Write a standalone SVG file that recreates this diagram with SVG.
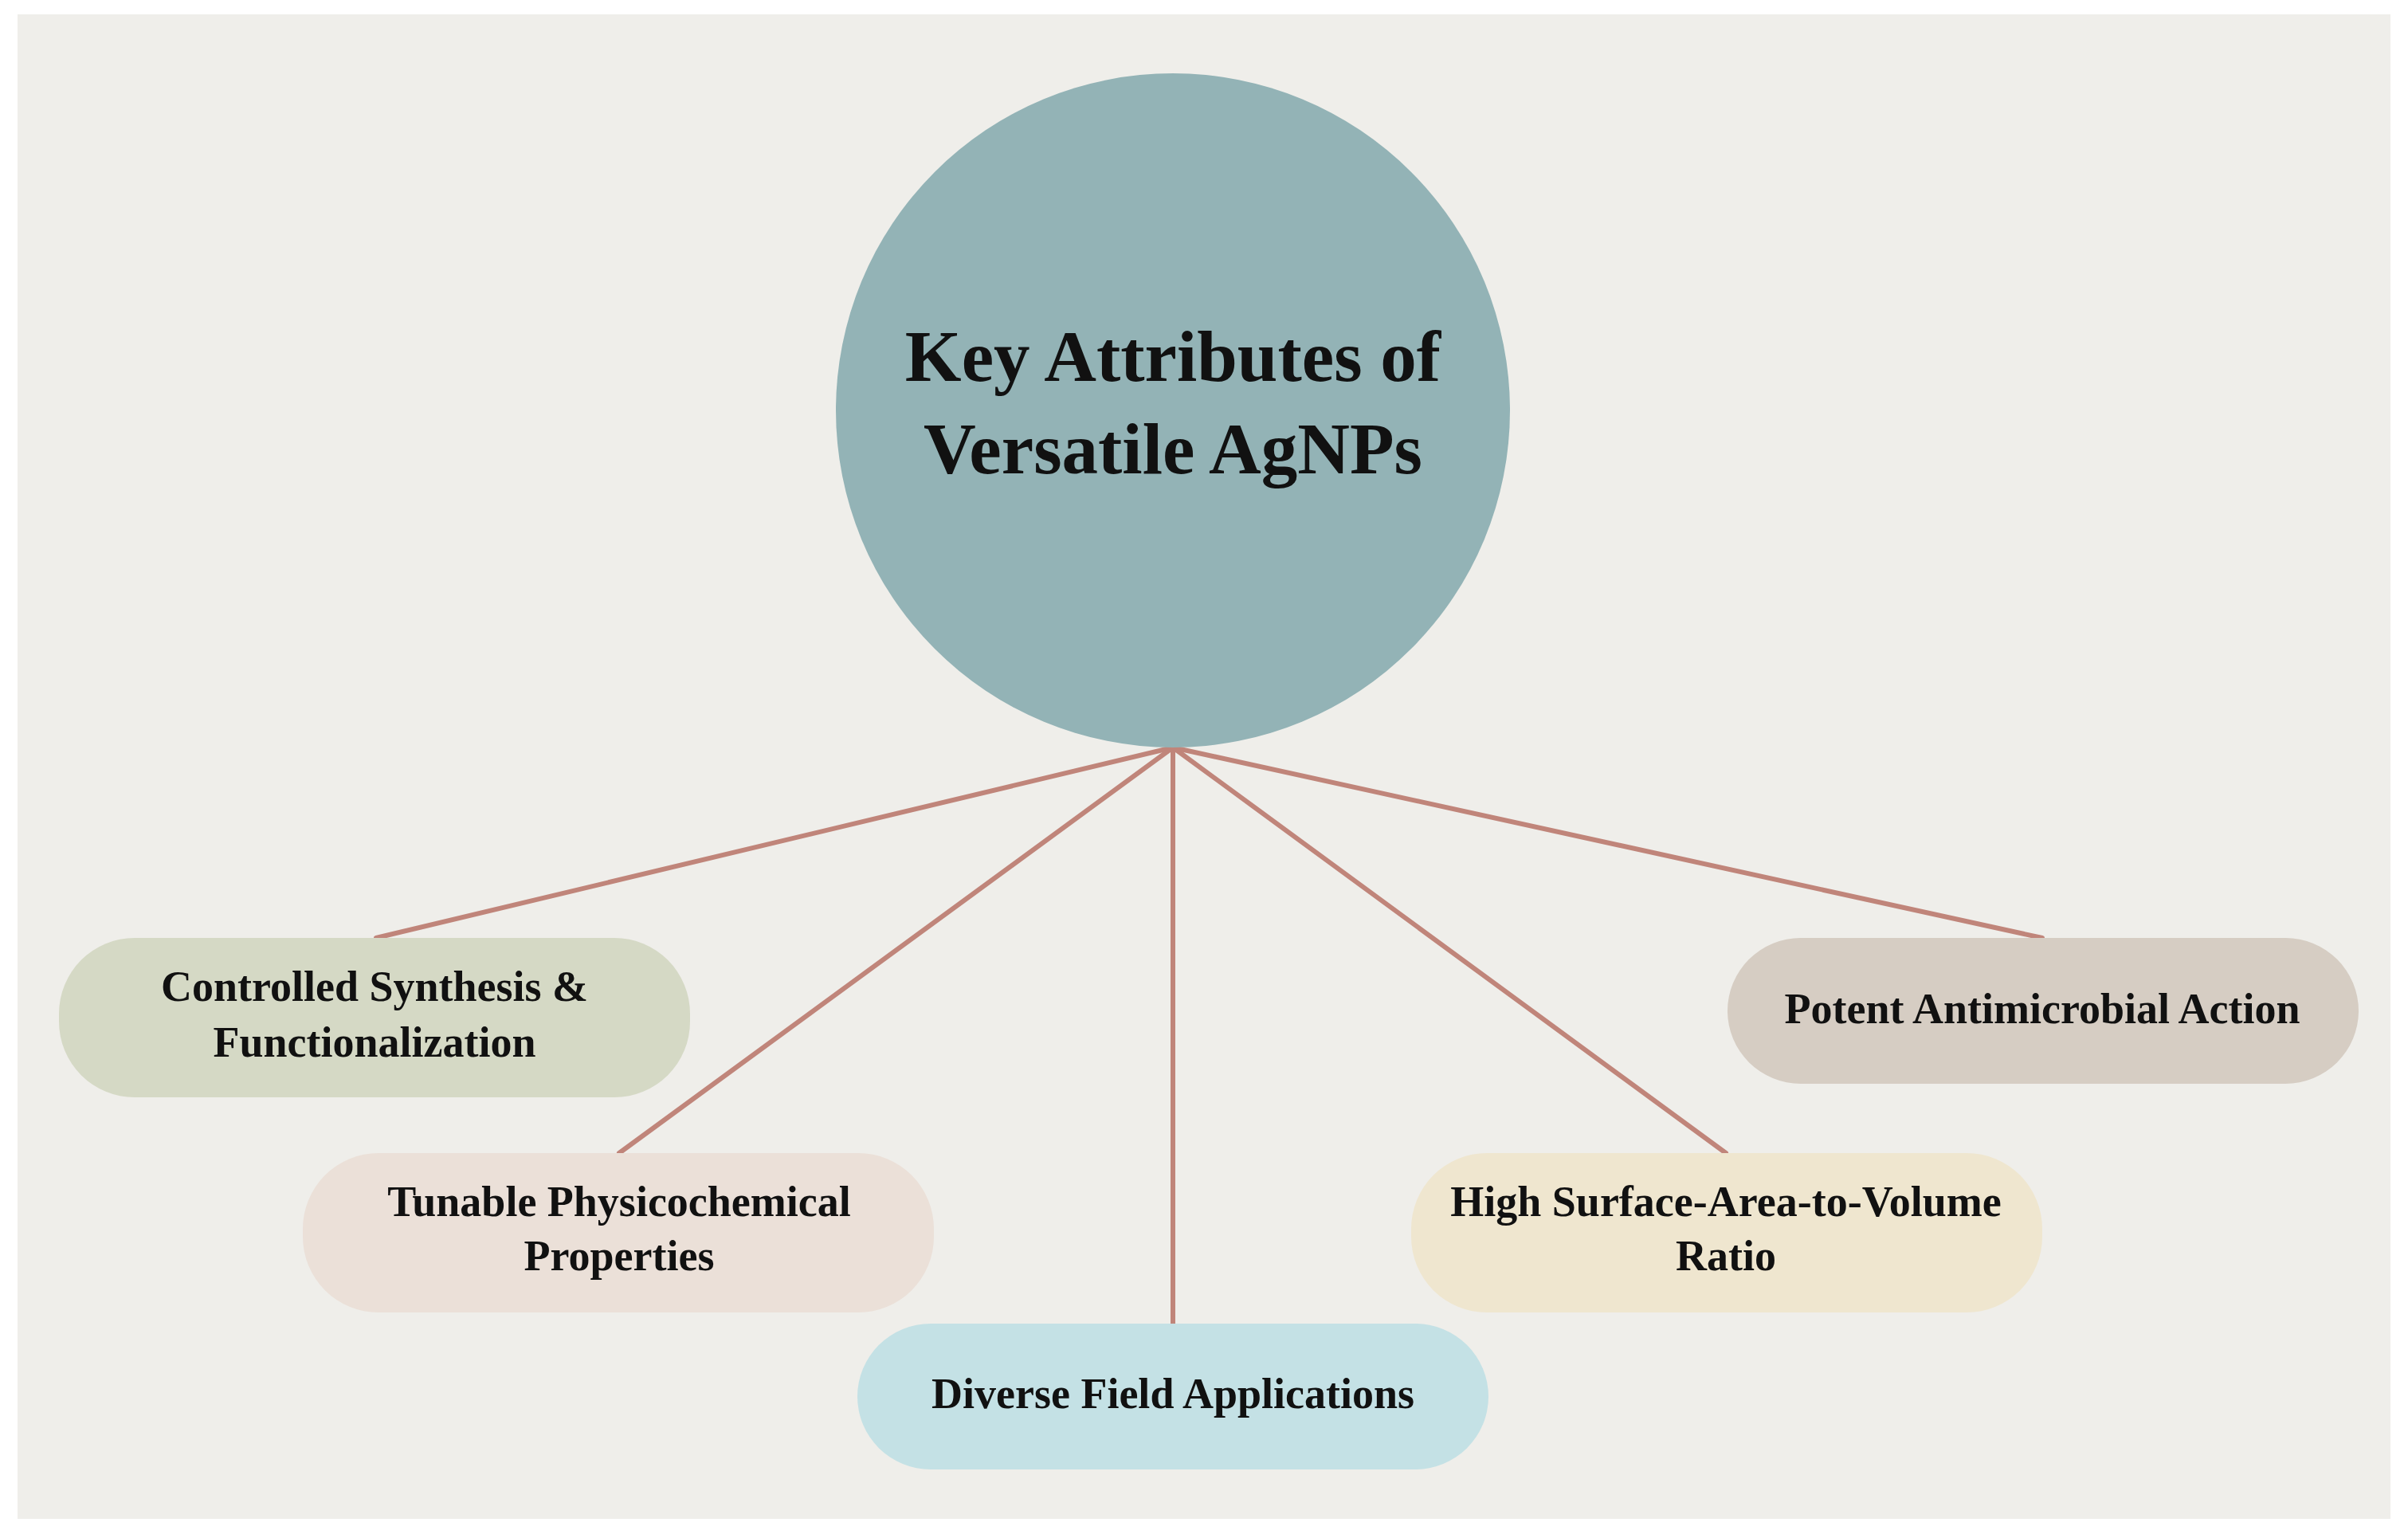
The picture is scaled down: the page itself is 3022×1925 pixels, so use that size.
<svg xmlns="http://www.w3.org/2000/svg" width="3022" height="1925" viewBox="0 0 3022 1925">
<style>
.t{font-family:"Liberation Serif","Times New Roman",serif;font-weight:bold;fill:#111;text-anchor:middle}
.n{font-size:54px}
.h{font-size:91px}
.c{stroke:#c0857a;stroke-width:6;fill:none;stroke-linecap:round}
</style>
<rect x="0" y="0" width="3022" height="1925" fill="#ffffff"/>
<rect x="22" y="18" width="2978" height="1888" fill="#efeeea"/>
<g id="connectors">
<line class="c" x1="1472" y1="938" x2="472" y2="1177"/>
<line class="c" x1="1472" y1="938" x2="777" y2="1447"/>
<line class="c" x1="1472" y1="938" x2="1472" y2="1661"/>
<line class="c" x1="1472" y1="938" x2="2166" y2="1447"/>
<line class="c" x1="1472" y1="938" x2="2563" y2="1177"/>
</g>
<g id="center">
<circle cx="1472" cy="515" r="423" fill="#93b3b6"/>
<text class="t h" x="1472" y="478">Key Attributes of</text>
<text class="t h" x="1472" y="594">Versatile AgNPs</text>
</g>
<g id="controlled">
<rect x="74" y="1177" width="792" height="200" rx="95" ry="95" fill="#d5d9c5"/>
<text class="t n" x="470" y="1256">Controlled Synthesis &amp;</text>
<text class="t n" x="470" y="1326">Functionalization</text>
</g>
<g id="tunable">
<rect x="380" y="1447" width="792" height="200" rx="95" ry="95" fill="#ebe0d8"/>
<text class="t n" x="777" y="1526">Tunable Physicochemical</text>
<text class="t n" x="777" y="1594">Properties</text>
</g>
<g id="diverse">
<rect x="1076" y="1661" width="792" height="183" rx="92" ry="92" fill="#c4e1e5"/>
<text class="t n" x="1472" y="1767">Diverse Field Applications</text>
</g>
<g id="high">
<rect x="1771" y="1447" width="792" height="200" rx="95" ry="95" fill="#efe6cf"/>
<text class="t n" x="2166" y="1526">High Surface-Area-to-Volume</text>
<text class="t n" x="2166" y="1594">Ratio</text>
</g>
<g id="potent">
<rect x="2168" y="1177" width="792" height="183" rx="92" ry="92" fill="#d6cdc3"/>
<text class="t n" x="2563" y="1284">Potent Antimicrobial Action</text>
</g>
</svg>
